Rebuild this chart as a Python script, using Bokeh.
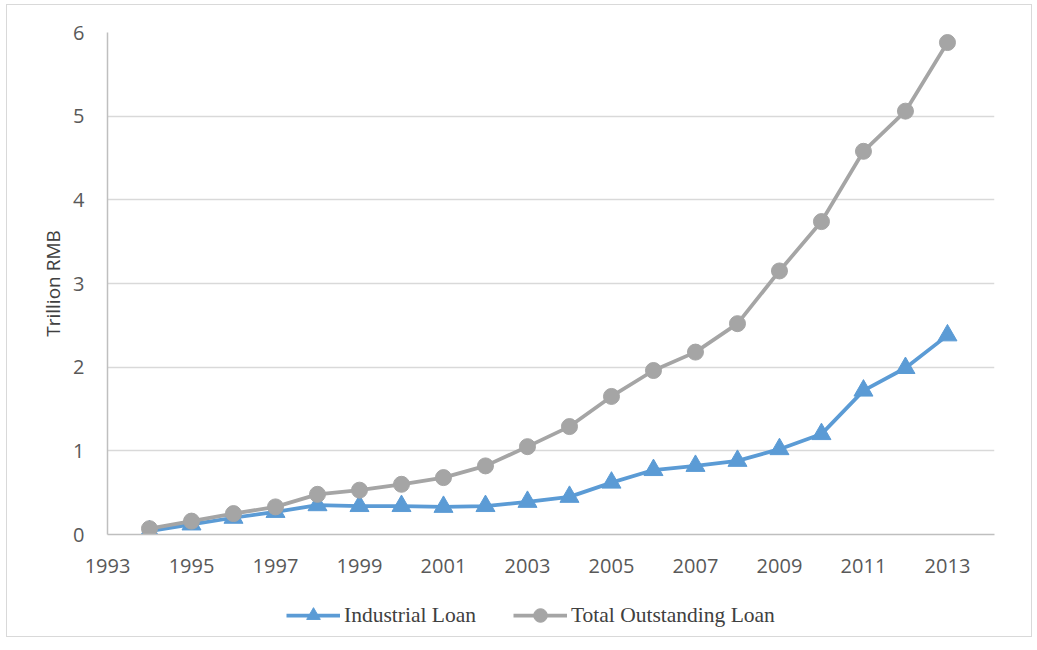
from bokeh.plotting import figure
from bokeh.models import ColumnDataSource, FixedTicker, Legend, LegendItem, Range1d
from bokeh.layouts import column
from bokeh.embed import file_html
from bokeh.resources import INLINE

years = [1994, 1995, 1996, 1997, 1998, 1999, 2000, 2001, 2002, 2003, 2004,
         2005, 2006, 2007, 2008, 2009, 2010, 2011, 2012, 2013]
industrial = [0.04, 0.12, 0.20, 0.27, 0.35, 0.34, 0.34, 0.33, 0.34, 0.39, 0.45,
              0.62, 0.77, 0.82, 0.88, 1.02, 1.20, 1.72, 1.99, 2.38]
total = [0.07, 0.16, 0.25, 0.33, 0.48, 0.53, 0.60, 0.68, 0.82, 1.05, 1.29,
         1.65, 1.96, 2.18, 2.52, 3.15, 3.74, 4.58, 5.06, 5.88]
x_ticks = [1993, 1995, 1997, 1999, 2001, 2003, 2005, 2007, 2009, 2011, 2013]
y_ticks = [0, 1, 2, 3, 4, 5, 6]
series_names = ["Industrial Loan", "Total Outstanding Loan"]
colors = ["#5b9bd5", "#a5a5a5"]

src = ColumnDataSource(dict(x=years, ind=industrial, tot=total))

p = figure(output_backend="svg", toolbar_location=None,
           x_range=Range1d(1993, 2014.12), y_range=Range1d(0, 6),
           frame_width=887, frame_height=502,
           min_border_left=100, min_border_right=37, min_border_top=27,
           min_border_bottom=60)
p.outline_line_color = None
p.background_fill_color = "white"
p.border_fill_color = "white"

p.xgrid.grid_line_color = None
p.ygrid.grid_line_color = "#d9d9d9"
p.ygrid.grid_line_width = 1.5

for ax in (p.xaxis[0], p.yaxis[0]):
    ax.axis_line_color = "#bfbfbf"
    ax.axis_line_width = 1.5
    ax.major_tick_line_color = None
    ax.minor_tick_line_color = None
    ax.major_label_text_color = "#595959"
    ax.major_label_text_font = "Open Sans"
    ax.major_label_text_font_size = "20px"

p.xaxis.ticker = FixedTicker(ticks=x_ticks)
p.yaxis.ticker = FixedTicker(ticks=y_ticks)
p.xaxis.major_label_standoff = 18
p.yaxis.major_label_standoff = 17
p.yaxis.axis_label = "Trillion RMB"
p.yaxis.axis_label_text_font = "Open Sans"
p.yaxis.axis_label_text_font_style = "normal"
p.yaxis.axis_label_text_font_size = "19px"
p.yaxis.axis_label_text_color = "#404040"
p.yaxis.axis_label_standoff = 4

p.line("x", "ind", source=src, line_color=colors[0], line_width=3.75)
p.scatter("x", "ind", source=src, marker="triangle", size=19,
          fill_color=colors[0], line_color=colors[0])
p.line("x", "tot", source=src, line_color=colors[1], line_width=3.75)
p.scatter("x", "tot", source=src, marker="circle", size=16,
          fill_color=colors[1], line_color=colors[1])

# legend strip (separate figure so it is not clipped); its glyphs sit off-range
lg = figure(output_backend="svg", toolbar_location=None,
            frame_width=1024, frame_height=42,
            x_range=Range1d(0, 1), y_range=Range1d(0, 1),
            min_border=0, x_axis_type=None, y_axis_type=None)
lg.outline_line_color = None
lg.xgrid.visible = False
lg.ygrid.visible = False
off = ColumnDataSource(dict(x=[-10, -9], y=[-10, -9]))
d1 = lg.line("x", "y", source=off, line_color=colors[0], line_width=3.75)
s1 = lg.scatter("x", "y", source=off, marker="triangle", size=17,
                fill_color=colors[0], line_color=colors[0])
d2 = lg.line("x", "y", source=off, line_color=colors[1], line_width=3.75)
s2 = lg.scatter("x", "y", source=off, marker="circle", size=14,
                fill_color=colors[1], line_color=colors[1])
legend = Legend(items=[LegendItem(label=series_names[0], renderers=[d1, s1]),
                       LegendItem(label=series_names[1], renderers=[d2, s2])],
                orientation="horizontal", location=(279, 4),
                label_text_font="Liberation Serif", label_text_font_size="21.5px",
                label_text_color="#404040", glyph_width=54, glyph_height=34,
                label_height=34, label_standoff=4,
                spacing=37, border_line_color=None, background_fill_alpha=0,
                margin=0, padding=0)
lg.add_layout(legend, "center")

layout = column(p, lg, spacing=0,
                styles={"border": "1.5px solid #d9d9d9",
                        "margin-left": "6px", "margin-top": "4px"})

open("out.html", "w").write(file_html(layout, INLINE))
